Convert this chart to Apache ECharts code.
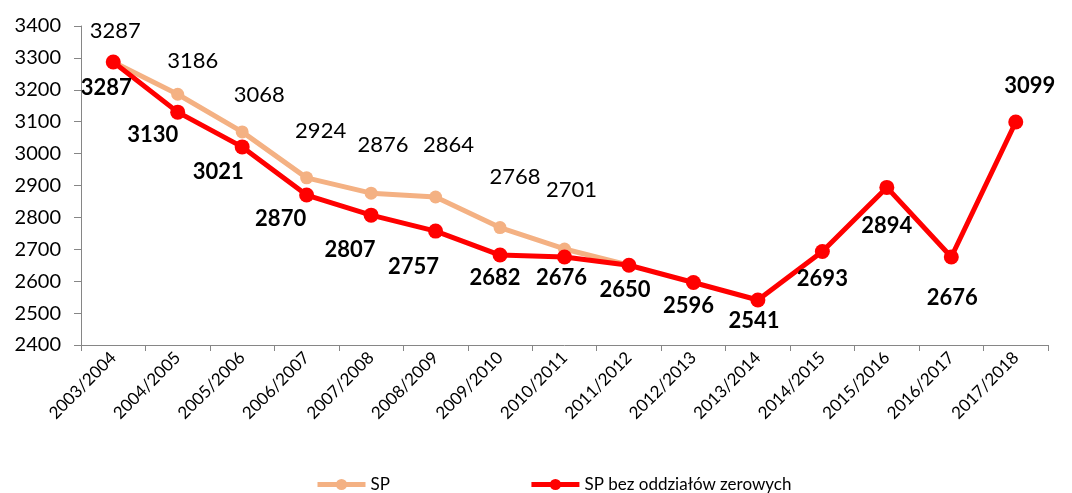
<!DOCTYPE html>
<html>
<head>
<meta charset="utf-8">
<script src="https://cdn.jsdelivr.net/npm/echarts@6/dist/echarts.min.js"></script>
<style>
  html, body { margin: 0; padding: 0; background: #fff; }
  #chart { width: 1072px; height: 493px; }
</style>
</head>
<body>
<div id="chart"></div>
<script>
// lata szkolne
const categories = ['2003/2004', '2004/2005', '2005/2006', '2006/2007', '2007/2008', '2008/2009',
  '2009/2010', '2010/2011', '2011/2012', '2012/2013', '2013/2014', '2014/2015', '2015/2016',
  '2016/2017', '2017/2018']
// SP
const spValues = [3287, 3186, 3068, 2924, 2876, 2864, 2768, 2701, 2650]
// SP bez oddziałów zerowych
const spBezZerowych = [3287, 3130, 3021, 2870, 2807, 2757, 2682, 2676, 2650, 2596, 2541, 2693, 2894, 2676, 3099]
const yTicks = { min: 2400, max: 3400, step: 100 }

// przesunięcia etykiet (jak w Excelu)
const spLabelShift = [[2, -31], [15, -33], [17, -37], [14, -47], [12, -48], [13, -52], [15, -51], [7, -59], null]
const redLabelShift = [[-7, 26], [-25, 23], [-24, 25], [-26, 24], [-21, 35], [-22, 36], [-5, 23], [-3, 21],
  [-4, 25], [-5, 23], [-4, 21], [0, 27], [0, 38], [1, 41], [14, -36]]

const font = 'Lato, "Open Sans", sans-serif'
const colors = ['#F4B183', '#FF0000']

const withLabels = (values, shifts, bold) => values.map((v, i) => ({
  value: v,
  label: shifts[i] ? {
    show: true,
    position: 'inside',
    offset: shifts[i],
    color: '#000',
    fontFamily: font,
    fontSize: 22,
    fontWeight: bold ? 'bold' : 'normal'
  } : { show: false }
}))

const myChart = echarts.init(document.getElementById('chart'))
myChart.setOption({
  animation: false,
  color: colors,
  grid: { left: 81, right: 24, top: 26, bottom: 148 },
  legend: {
    top: 471,
    left: 310,
    itemGap: 139,
    itemWidth: 48,
    itemHeight: 14,
    lineStyle: { width: 5 },
    textStyle: { fontFamily: font, fontSize: 17, color: '#000' },
    data: ['SP', 'SP bez oddziałów zerowych']
  },
  xAxis: {
    type: 'category',
    boundaryGap: true,
    data: categories,
    axisLine: { lineStyle: { color: '#868686' } },
    axisTick: { show: true, length: 6, lineStyle: { color: '#868686' } },
    axisLabel: {
      rotate: 45,
      interval: 0,
      color: '#000',
      fontFamily: font,
      fontSize: 17,
      margin: 10
    }
  },
  yAxis: {
    type: 'value',
    min: yTicks.min,
    max: yTicks.max,
    interval: yTicks.step,
    axisLine: { show: true, lineStyle: { color: '#868686' } },
    axisTick: { show: true, length: 7, lineStyle: { color: '#868686' } },
    splitLine: { show: false },
    axisLabel: { color: '#000', fontFamily: font, fontSize: 20, margin: 20, formatter: v => String(v) }
  },
  series: [{
    name: 'SP',
    type: 'line',
    symbol: 'circle',
    symbolSize: 13,
    z: 2,
    lineStyle: { width: 5, color: colors[0] },
    itemStyle: { color: colors[0] },
    data: withLabels(spValues, spLabelShift, false)
  }, {
    name: 'SP bez oddziałów zerowych',
    type: 'line',
    symbol: 'circle',
    symbolSize: 15,
    z: 3,
    lineStyle: { width: 5, color: colors[1] },
    itemStyle: { color: colors[1] },
    data: withLabels(spBezZerowych, redLabelShift, true)
  }]
})
</script>
</body>
</html>
